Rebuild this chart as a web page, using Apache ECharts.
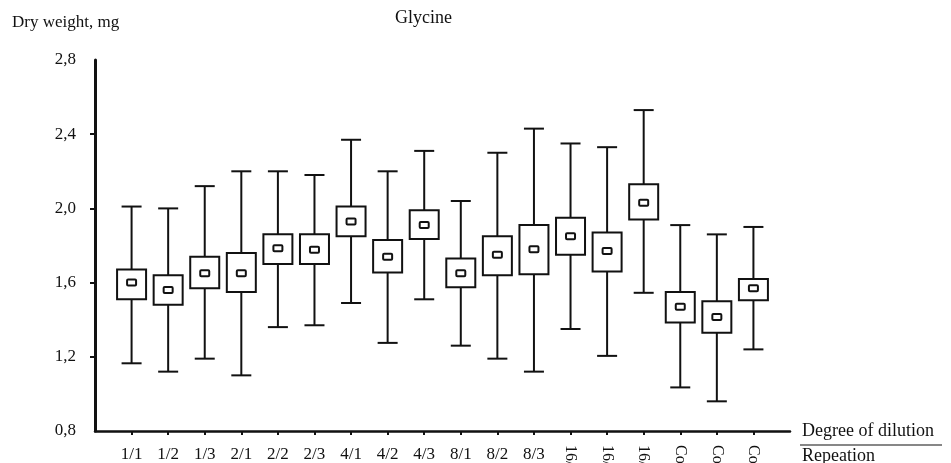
<!DOCTYPE html>
<html><head><meta charset="utf-8">
<script src="https://cdn.jsdelivr.net/npm/echarts@6/dist/echarts.min.js"></script>
<style>html,body{margin:0;padding:0;background:#fff}#c{width:951px;height:463px}</style>
</head><body><div id="c"></div>
<script>
// ---- data ----
const categories = ['1/1','1/2','1/3','2/1','2/2','2/3','4/1','4/2','4/3','8/1','8/2','8/3','16/','16/','16/','Co','Co','Co'];
const rotatedLabel = [false,false,false,false,false,false,false,false,false,false,false,false,true,true,true,true,true,true];
const whiskerMax = [2.01,2.00,2.12,2.20,2.20,2.18,2.37,2.20,2.31,2.04,2.30,2.43,2.35,2.33,2.53,1.91,1.86,1.90];
const boxTop     = [1.67,1.64,1.74,1.76,1.86,1.86,2.01,1.83,1.99,1.73,1.85,1.91,1.95,1.87,2.13,1.55,1.50,1.62];
const median     = [1.60,1.56,1.65,1.65,1.785,1.777,1.93,1.74,1.91,1.65,1.75,1.78,1.85,1.77,2.03,1.47,1.415,1.57];
const boxBottom  = [1.51,1.48,1.57,1.55,1.70,1.70,1.85,1.655,1.835,1.575,1.64,1.645,1.75,1.66,1.94,1.385,1.33,1.505];
const whiskerMin = [1.165,1.12,1.19,1.10,1.36,1.37,1.49,1.275,1.51,1.26,1.19,1.12,1.35,1.205,1.545,1.035,0.96,1.24];
const yTickValues = [1.2,1.6,2.0,2.4];
const yMin = 0.8, yMax = 2.8, yStep = 0.4;

// padded category list: empty slot at each end of the axis
const axisCats = [''].concat(categories, ['']);
const boxData = categories.map((c, i) => [i + 1, whiskerMin[i], boxBottom[i], median[i], boxTop[i], whiskerMax[i]]);

const INK = '#111';
const SERIF = '"Liberation Serif", "DejaVu Serif", "Times New Roman", serif';

function renderItem(params, api) {
  const x = api.value(0);
  const pMin = api.coord([x, api.value(1)]);
  const pQ1 = api.coord([x, api.value(2)]);
  const pMed = api.coord([x, api.value(3)]);
  const pQ3 = api.coord([x, api.value(4)]);
  const pMax = api.coord([x, api.value(5)]);
  const cx = pMin[0];
  const boxW = 29, capW = 20, mW = 9, mH = 6;
  const line = { stroke: INK, lineWidth: 2, fill: null };
  return {
    type: 'group',
    children: [
      { type: 'line', shape: { x1: cx, y1: pMax[1], x2: cx, y2: pQ3[1] }, style: line },
      { type: 'line', shape: { x1: cx, y1: pQ1[1], x2: cx, y2: pMin[1] }, style: line },
      { type: 'line', shape: { x1: cx - capW / 2, y1: pMax[1], x2: cx + capW / 2, y2: pMax[1] }, style: line },
      { type: 'line', shape: { x1: cx - capW / 2, y1: pMin[1], x2: cx + capW / 2, y2: pMin[1] }, style: line },
      { type: 'rect', shape: { x: cx - boxW / 2, y: pQ3[1], width: boxW, height: pQ1[1] - pQ3[1] },
        style: { stroke: INK, lineWidth: 2, fill: '#fff' } },
      { type: 'rect', shape: { x: cx - mW / 2, y: pMed[1] - mH / 2, width: mW, height: mH, r: 1 },
        style: { stroke: INK, lineWidth: 2, fill: '#fff' } }
    ]
  };
}

const chart = echarts.init(document.getElementById('c'), null, { renderer: 'canvas' });
chart.setOption({
  animation: false,
  backgroundColor: '#fff',
  title: {
    text: 'Glycine', left: 395, top: 9, padding: 0,
    textStyle: { fontFamily: SERIF, fontSize: 18, fontWeight: 'normal', color: INK }
  },
  grid: { left: 95, right: 161, top: 60, bottom: 32, outerBoundsMode: 'none', containLabel: false },
  xAxis: [{
    type: 'category', data: axisCats, boundaryGap: false, position: 'bottom',
    name: 'Degree of dilution', nameLocation: 'end', nameGap: 12,
    nameTextStyle: { fontFamily: SERIF, fontSize: 18, color: INK },
    axisLine: { lineStyle: { color: INK, width: 2.5 } },
    axisTick: { show: true, length: 4, lineStyle: { color: INK, width: 2 },
      interval: (i) => i > 0 && i < axisCats.length - 1 },
    axisLabel: { interval: 0, margin: 15, fontFamily: SERIF, fontSize: 17, color: INK,
      formatter: (v, i) => (i > 0 && i <= categories.length && !rotatedLabel[i - 1]) ? v : '' },
    splitLine: { show: false }
  }, {
    type: 'category', data: axisCats, boundaryGap: false, position: 'bottom',
    axisLine: { show: false }, axisTick: { show: false }, splitLine: { show: false },
    axisLabel: { interval: 0, rotate: -90, margin: 14, fontFamily: SERIF, fontSize: 16, color: INK,
      formatter: (v, i) => (i > 0 && i <= categories.length && rotatedLabel[i - 1]) ? v : '' }
  }],
  yAxis: {
    type: 'value', min: yMin, max: yMax, interval: yStep,
    axisLine: { show: true, lineStyle: { color: INK, width: 3 } },
    axisTick: { show: true, length: 5, lineStyle: { color: INK, width: 2 }, customValues: yTickValues },
    axisLabel: { margin: 19, fontFamily: SERIF, fontSize: 17, color: INK,
      formatter: (v) => v.toFixed(1).replace('.', ',') },
    splitLine: { show: false }
  },
  graphic: [
    { type: 'text', left: 12, top: 14,
      style: { text: 'Dry weight, mg', font: '17px ' + SERIF, fill: INK } },
    { type: 'line', shape: { x1: 800, y1: 445, x2: 942, y2: 445 }, style: { stroke: INK, lineWidth: 1.2 } },
    { type: 'text', left: 802, top: 447,
      style: { text: 'Repeation', font: '18px ' + SERIF, fill: INK } }
  ],
  series: [{
    type: 'custom', xAxisIndex: 0, yAxisIndex: 0,
    renderItem: renderItem,
    encode: { x: 0, y: [1, 2, 3, 4, 5] },
    data: boxData
  }]
});
</script></body></html>
